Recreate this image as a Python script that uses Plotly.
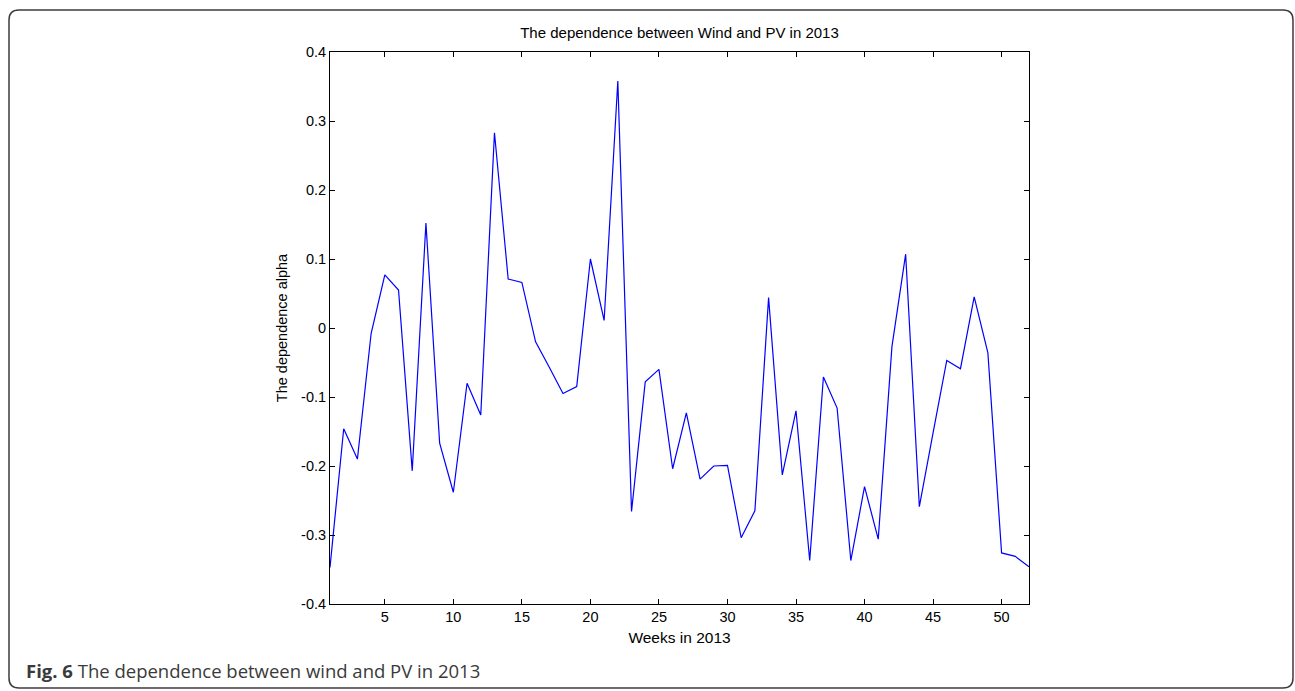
import plotly.graph_objects as go

weeks = list(range(1, 53))
alpha = [-0.347, -0.146, -0.190, -0.008, 0.077, 0.055, -0.207, 0.152, -0.167, -0.238,
         -0.080, -0.126, 0.283, 0.071, 0.066, -0.020, -0.057, -0.095, -0.085, 0.100,
         0.011, 0.358, -0.266, -0.078, -0.060, -0.204, -0.123, -0.219, -0.200, -0.199,
         -0.304, -0.265, 0.044, -0.213, -0.120, -0.337, -0.071, -0.116, -0.337, -0.230,
         -0.306, -0.027, 0.107, -0.259, -0.152, -0.047, -0.059, 0.045, -0.036, -0.326,
         -0.331, -0.346]
x_ticks = [5, 10, 15, 20, 25, 30, 35, 40, 45, 50]
y_ticks = [-0.4, -0.3, -0.2, -0.1, 0, 0.1, 0.2, 0.3, 0.4]
y_tick_labels = ["-0.4", "-0.3", "-0.2", "-0.1", "0", "0.1", "0.2", "0.3", "0.4"]

W, H = 1295, 691
L, R, T, B = 330, 1029, 52, 604

fig = go.Figure()
fig.add_trace(go.Scatter(x=weeks, y=alpha, mode="lines",
                         line=dict(color="#0000ff", width=1.2), showlegend=False))

axis_common = dict(showline=True, linecolor="black", linewidth=1, mirror="ticks",
                   ticks="inside", ticklen=5, tickcolor="black", showgrid=False,
                   zeroline=False, tickfont=dict(family="Liberation Sans", size=14.5, color="black"))

fig.update_xaxes(range=[1, 52], tickvals=x_ticks, ticktext=[str(v) for v in x_ticks],
                 title=dict(text="Weeks in 2013", standoff=7,
                            font=dict(family="Liberation Sans", size=15.5, color="black")),
                 **axis_common)
fig.update_yaxes(range=[-0.4, 0.4], tickvals=y_ticks, ticktext=y_tick_labels,
                 title=dict(text="The dependence alpha", standoff=10,
                            font=dict(family="Liberation Sans", size=14.5, color="black")),
                 **axis_common)

# rounded outer frame (pixel -> paper)
def px(xp):
    return (xp - L) / (R - L)

def py(yp):
    return (B - yp) / (B - T)

x0, x1, y0, y1, r = 9, 1293, 10, 688, 10
pts = [
    ("M", x0 + r, y0), ("L", x1 - r, y0), ("Q", x1, y0, x1, y0 + r),
    ("L", x1, y1 - r), ("Q", x1, y1, x1 - r, y1), ("L", x0 + r, y1),
    ("Q", x0, y1, x0, y1 - r), ("L", x0, y0 + r), ("Q", x0, y0, x0 + r, y0),
]
path = ""
for p in pts:
    cmd = p[0]
    coords = p[1:]
    segs = []
    for i in range(0, len(coords), 2):
        segs.append(f"{px(coords[i]):.5f},{py(coords[i+1]):.5f}")
    path += cmd + " " + " ".join(segs) + " "
path += "Z"
fig.add_shape(type="path", path=path, xref="paper", yref="paper",
              line=dict(color="#3c3c3c", width=1.5), layer="below")

fig.add_annotation(text="<b>Fig. 6</b> The dependence between wind and PV in 2013",
                   xref="paper", yref="paper", x=px(24), y=py(670),
                   xanchor="left", yanchor="middle", showarrow=False,
                   font=dict(family="Open Sans", size=18.5, color="#3a3a3a"))

fig.update_layout(
    width=W, height=H,
    margin=dict(l=L, r=W - R, t=T, b=H - B),
    paper_bgcolor="white", plot_bgcolor="white",
    title=dict(text="The dependence between Wind and PV in 2013",
               x=0.5, xref="paper", y=1 - 33 / H, yref="container",
               xanchor="center", yanchor="middle",
               font=dict(family="Liberation Sans", size=15, color="black")),
)

fig.write_html("out.html")
